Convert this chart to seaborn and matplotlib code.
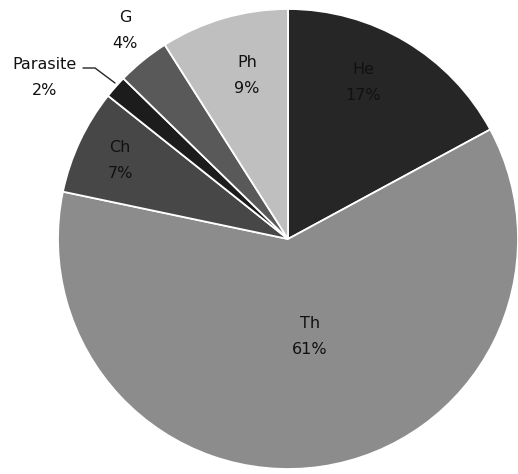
import matplotlib
matplotlib.use("Agg")
import matplotlib.pyplot as plt
import seaborn as sns

sns.set_theme(style="white")
plt.rcParams['font.family'] = ['DejaVu Sans']

categories = ["He", "Th", "Ch", "Parasite", "G", "Ph"]
values = [17.1, 61.2, 7.4, 1.6, 3.7, 9.0]
colors = ["#262626", "#8c8c8c", "#474747", "#1c1c1c", "#595959", "#bfbfbf"]

W, H = 518, 474
fig = plt.figure(figsize=(W / 100, H / 100), dpi=100)
ax = fig.add_axes([0, 0, 1, 1])
ax.axis("off")

cx, cy, r = 288, H - 239, 230
wedges, _ = ax.pie(values, center=(cx, cy), radius=r, startangle=90,
                   counterclock=False, colors=colors,
                   wedgeprops=dict(edgecolor="white", linewidth=1.3))
ax.set_xlim(0, W)
ax.set_ylim(0, H)
ax.set_aspect("equal")

total = sum(values)
pcts = [f"{round(v / total * 100):d}%" for v in values]

# label centres in image pixel coordinates (x, y from top)
label_pos = {"He": (363, 82), "Th": (310, 336), "Ch": (120, 160),
             "Parasite": (45, 77), "G": (125, 30), "Ph": (247, 75)}
for cat, p in zip(categories, pcts):
    x, y = label_pos[cat]
    ax.text(x, H - (y - 13), cat, ha="center", va="center", fontsize=11.5,
            color="#111111")
    ax.text(x, H - (y + 13), p, ha="center", va="center", fontsize=11.5,
            color="#111111")

# leader line for Parasite
ax.plot([83, 95, 115], [H - 68, H - 68, H - 83], color="#262626", lw=1.0)

fig.savefig("out.png", dpi=100)
